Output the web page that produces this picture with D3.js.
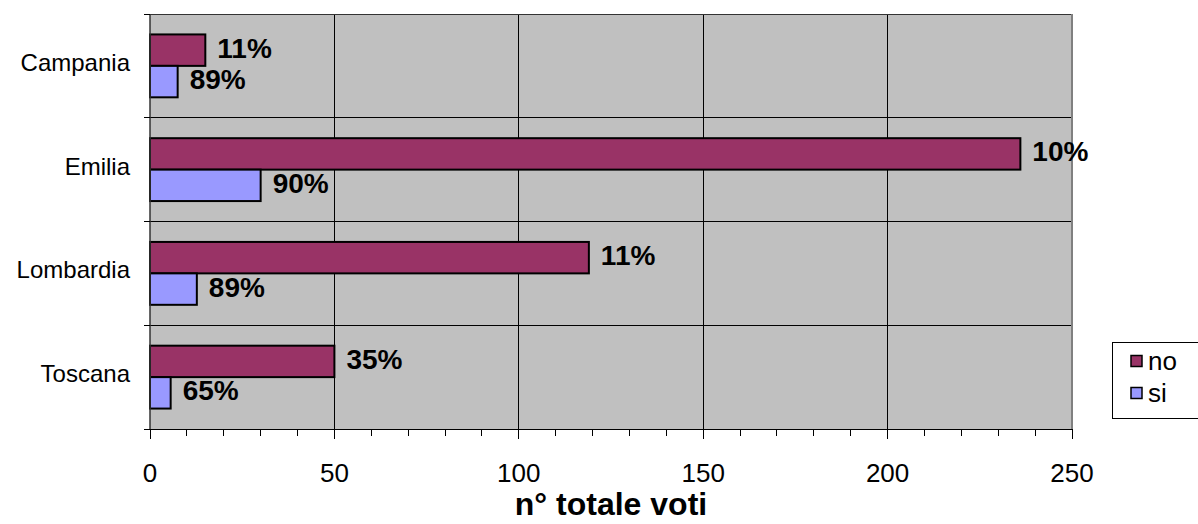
<!DOCTYPE html>
<html><head><meta charset="utf-8">
<script src="https://cdn.jsdelivr.net/npm/d3@7"></script>
<style>body{margin:0;background:#fff}svg{display:block}text{font-family:Arial,"Liberation Sans",sans-serif}</style>
</head><body><svg id="c" width="1198" height="524"></svg>
<script>
const categories = ["Campania","Emilia","Lombardia","Toscana"];
const seriesNames = ["no","si"];
const noValues = [15, 236, 119, 50];
const siValues = [7.5, 30, 12.7, 5.6];
const noLabels = ["11%","10%","11%","35%"];
const siLabels = ["89%","90%","89%","65%"];
const xTicks = [0,50,100,150,200,250];
const axisTitle = "n° totale voti";
const colors = {no:"#993366", si:"#9999FF"};

const svg = d3.select("#c");
const L=150, R=1072, T=14, B=429;
const x = d3.scaleLinear().domain([0,250]).range([L,R]);
const y = d3.scaleBand().domain(categories).range([T,B]).padding(0);
const ys = d3.scaleBand().domain(seriesNames).range([0,y.bandwidth()]).paddingInner(0).paddingOuter(0.65);

svg.append("rect").attr("x",L).attr("y",T).attr("width",R-L).attr("height",B-T).attr("fill","#C0C0C0");

// vertical grid
svg.append("g").selectAll("line").data(xTicks.slice(1,-1)).join("line")
  .attr("x1",d=>x(d)).attr("x2",d=>x(d)).attr("y1",T).attr("y2",B)
  .attr("stroke","#000").attr("stroke-width",1).attr("shape-rendering","crispEdges");
// horizontal lines at category boundaries
const bounds = categories.map(c=>y(c)).concat([B]);
svg.append("g").selectAll("line").data(bounds.slice(1,-1)).join("line")
  .attr("x1",L).attr("x2",R).attr("y1",d=>d).attr("y2",d=>d)
  .attr("stroke","#000").attr("stroke-width",1).attr("shape-rendering","crispEdges");
// plot border top/right
svg.append("line").attr("x1",L).attr("x2",R).attr("y1",T).attr("y2",T).attr("stroke","#333").attr("shape-rendering","crispEdges");
svg.append("line").attr("x1",R).attr("x2",R).attr("y1",T).attr("y2",B).attr("stroke","#808080").attr("stroke-width",2).attr("shape-rendering","crispEdges");

const data = categories.map((c,i)=>({c, no:noValues[i], si:siValues[i], nol:noLabels[i], sil:siLabels[i]}));
const g = svg.append("g");
data.forEach(d=>{
  seriesNames.forEach(s=>{
    const by = y(d.c)+ys(s);
    g.append("rect").attr("x",x(0)).attr("y",by).attr("width",x(d[s])-x(0)).attr("height",ys.bandwidth())
      .attr("fill",colors[s]).attr("stroke","#000").attr("stroke-width",2);
  });
});
data.forEach(d=>{
  seriesNames.forEach(s=>{
    const by = y(d.c)+ys(s)+ys.bandwidth()/2;
    g.append("text").attr("x",x(d[s])+12).attr("y",by+7.5).text(s==="no"?d.nol:d.sil)
      .attr("font-size",28).attr("font-weight","bold").attr("fill","#000");
  });
});

// y axis
svg.append("line").attr("x1",L).attr("x2",L).attr("y1",T).attr("y2",B).attr("stroke","#333").attr("stroke-width",1.5);
svg.append("g").selectAll("line").data(bounds).join("line")
  .attr("x1",L-6).attr("x2",L).attr("y1",d=>d).attr("y2",d=>d).attr("stroke","#000").attr("shape-rendering","crispEdges");
svg.append("g").selectAll("text").data(categories).join("text")
  .attr("x",130).attr("y",d=>y(d)+y.bandwidth()/2+5).attr("text-anchor","end")
  .attr("font-size",24).text(d=>d);

// x axis
svg.append("line").attr("x1",L-6).attr("x2",R).attr("y1",B).attr("y2",B).attr("stroke","#000").attr("shape-rendering","crispEdges");
const minor = d3.range(0,251,10);
svg.append("g").selectAll("line").data(minor).join("line")
  .attr("x1",d=>x(d)).attr("x2",d=>x(d)).attr("y1",B).attr("y2",d=>B+(d%50===0?10:7))
  .attr("stroke","#000").attr("shape-rendering","crispEdges");
svg.append("g").selectAll("text").data(xTicks).join("text")
  .attr("x",d=>x(d)).attr("y",482).attr("text-anchor","middle").attr("font-size",26).text(d=>d);
svg.append("text").attr("x",611).attr("y",515).attr("text-anchor","middle").attr("font-size",32).attr("font-weight","bold").text(axisTitle);

// legend
const lg = svg.append("g");
lg.append("rect").attr("x",1112.5).attr("y",342.5).attr("width",120).attr("height",76).attr("fill","#fff").attr("stroke","#000");
seriesNames.forEach((s,i)=>{
  const cy = 361.5 + i*32;
  lg.append("rect").attr("x",1131).attr("y",cy-6).attr("width",11).attr("height",11).attr("fill",colors[s]).attr("stroke","#000").attr("stroke-width",1.5);
  lg.append("text").attr("x",1148).attr("y",cy+8).attr("font-size",26).text(s);
});
</script></body></html>
